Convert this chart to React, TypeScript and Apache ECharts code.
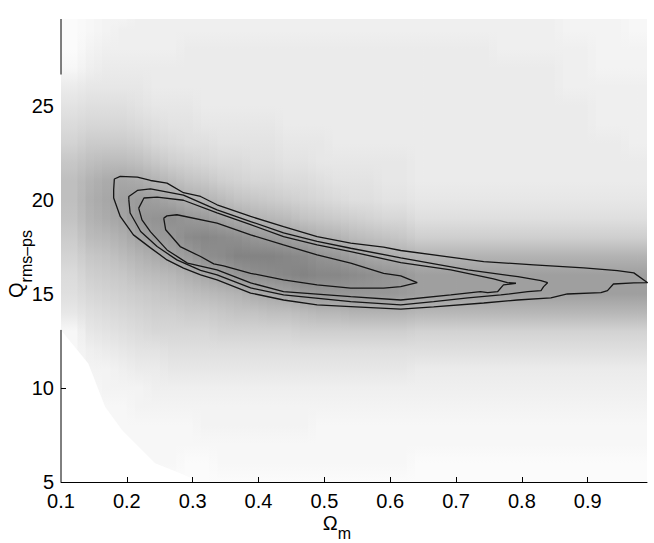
import React, { useEffect, useRef } from 'react';
import * as echarts from 'echarts';

const FONT = '"Liberation Sans", Arial, Helvetica, sans-serif';

const X_MIN = 0.1;
const X_MAX = 0.99;
const Y_MIN = 5;
const Y_MAX = 29.6;
const X_TICKS = [0.1, 0.2, 0.3, 0.4, 0.5, 0.6, 0.7, 0.8, 0.9];
const X_TICK_MARKS = [0.2, 0.3, 0.4, 0.5, 0.6, 0.7, 0.8, 0.9];
const Y_TICKS = [5, 10, 15, 20, 25];
const Y_TICK_MARKS = [10];
// parts of the left axis line that are not hidden by the density image
const Y_AXIS_SEGMENTS = [
  [5, 13.08],
  [26.65, 29.6],
];

// density image: one string per column (left -> right), one base-36 char per row (top -> bottom)
// darkness value v -> gray level 255 - 4 v
const DENSITY_ROWS_Y = [29.6, 29, 28, 27, 26, 25, 24, 23, 22, 21, 20, 19, 18, 17, 16, 15, 14, 13, 12, 11, 10, 9, 8, 7, 6, 5];
const DENSITY_COL_EDGES = [
  0.1, 0.125, 0.15, 0.175, 0.2, 0.225, 0.25, 0.275, 0.3, 0.325, 0.35, 0.375, 0.4, 0.425, 0.45, 0.475, 0.5, 0.525,
  0.55, 0.575, 0.6, 0.625, 0.65, 0.675, 0.7, 0.725, 0.75, 0.775, 0.8, 0.825, 0.85, 0.875, 0.9, 0.925, 0.95, 0.975, 0.99,
];
const DENSITY_COLUMNS = [
  '1112579beggfdb986222222222',
  '223468adgjkjheca8643222222',
  '334568adhlmlifdb9753322222',
  '344568adhmonkheca864322222',
  '4445679cglpqnjgdb975332222',
  '4445568aejorplheca75432222',
  '44455679chmsqnifca86432221',
  '44555678bfkqtpkgda86432211',
  '44555568aejpusmhda86433211',
  '445555679chnttoieb86433221',
  '445555679bflsvqjfb86433221',
  '445555678aejqvslfb86433221',
  '445555678adipvtmgb86433221',
  '4455555679chouungb86433221',
  '4455555679bfmtvphc86433221',
  '4455555668aekruqic86432221',
  '44555555679djquqic86432221',
  '44555555678chotqjc86432221',
  '44555555678bgmsqjc86432221',
  '44555555667aflrqjc86432221',
  '44555555667aekqpjc86432221',
  '445555555568cjooib85432211',
  '445555555568cjooib85432211',
  '445555555568cjooib85432211',
  '445555555568cjooib85432211',
  '445555555568cjooib85432211',
  '444555555568cjooib85432211',
  '444555555568cjooib85432211',
  '444555555568cjooib85432211',
  '444555555568cjooib85432211',
  '334445555568cjooib85432211',
  '334445555568cjooib85432211',
  '333344455568cjooib85432211',
  '333344455568cjooib85432211',
  '223344445568cjooib85432211',
  '223344445568cjooib85432211',
];
// blank (no-data) corner at the lower left
const BLANK_X = [0.1, 0.1, 0.1415, 0.167, 0.193, 0.243, 0.278, 0.312];
const BLANK_Y = [5, 13.08, 11.3, 9.0, 7.75, 6.0, 5.5, 5.0];

const CONTOUR_OUTER = [
  [0.18, 20.53], [0.181, 21.1], [0.19, 21.24], [0.216, 21.2], [0.236, 21.02], [0.261, 20.88], [0.286, 20.37],
  [0.312, 20.17], [0.337, 19.73], [0.388, 19.11], [0.438, 18.57], [0.489, 18.04], [0.54, 17.69], [0.59, 17.48],
  [0.616, 17.3], [0.742, 16.71], [0.818, 16.54], [0.894, 16.38], [0.945, 16.23], [0.97, 16.11], [0.991, 15.59],
  [0.97, 15.58], [0.939, 15.52], [0.93, 15.17], [0.92, 15.06], [0.869, 14.99], [0.844, 14.78], [0.793, 14.67],
  [0.742, 14.51], [0.666, 14.3], [0.616, 14.19], [0.54, 14.32], [0.489, 14.41], [0.438, 14.67], [0.388, 15.04],
  [0.337, 15.74], [0.312, 16.0], [0.286, 16.36], [0.261, 16.8], [0.236, 17.44], [0.21, 18.13], [0.19, 19.11],
  [0.18, 20.09], [0.18, 20.53],
];
const CONTOUR_SECOND = [
  [0.203, 19.99], [0.203, 20.17], [0.216, 20.49], [0.236, 20.57], [0.286, 20.24], [0.337, 19.46], [0.388, 18.84],
  [0.438, 18.24], [0.489, 17.78], [0.54, 17.42], [0.616, 16.91], [0.718, 16.27], [0.794, 15.91], [0.829, 15.7],
  [0.839, 15.59], [0.833, 15.38], [0.829, 15.17], [0.809, 15.11], [0.768, 14.94], [0.718, 14.78], [0.666, 14.58],
  [0.616, 14.41], [0.54, 14.58], [0.438, 14.94], [0.388, 15.31], [0.337, 16.0], [0.312, 16.24], [0.276, 16.8],
  [0.246, 17.51], [0.221, 18.31], [0.205, 19.29], [0.203, 19.99],
];
const CONTOUR_THIRD = [
  [0.218, 19.55], [0.226, 20.09], [0.246, 20.14], [0.286, 19.97], [0.337, 19.3], [0.388, 18.67], [0.438, 18.04],
  [0.489, 17.6], [0.54, 17.24], [0.616, 16.66], [0.692, 16.27], [0.757, 15.79], [0.778, 15.59], [0.791, 15.56],
  [0.772, 15.47], [0.763, 15.11], [0.748, 15.06], [0.737, 15.11], [0.692, 14.94], [0.616, 14.67], [0.54, 14.85],
  [0.438, 15.11], [0.388, 15.58], [0.337, 16.27], [0.292, 16.63], [0.261, 17.33], [0.236, 18.29], [0.223, 18.93],
  [0.218, 19.55],
];
const CONTOUR_INNER = [
  [0.256, 19.02], [0.261, 19.14], [0.276, 19.2], [0.337, 18.76], [0.388, 18.13], [0.438, 17.6], [0.489, 17.07],
  [0.54, 16.63], [0.59, 16.09], [0.616, 15.95], [0.641, 15.59], [0.616, 15.38], [0.59, 15.3], [0.54, 15.3],
  [0.489, 15.47], [0.438, 15.74], [0.388, 16.09], [0.347, 16.48], [0.332, 16.59], [0.312, 16.98], [0.281, 17.51],
  [0.259, 18.4], [0.256, 19.02],
];
const CONTOURS = [CONTOUR_OUTER, CONTOUR_SECOND, CONTOUR_THIRD, CONTOUR_INNER];

const shade = (v: number) => {
  const g = Math.round(255 - 4 * v);
  return `rgb(${g},${g},${g})`;
};

const columnGradient = (i: number) => {
  const col = DENSITY_COLUMNS[i];
  return {
    type: 'linear',
    x: 0,
    y: 0,
    x2: 0,
    y2: 1,
    colorStops: DENSITY_ROWS_Y.map((y, k) => ({
      offset: (Y_MAX - y) / (Y_MAX - Y_MIN),
      color: shade(parseInt(col[k], 36)),
    })),
  };
};

export default function App() {
  const ref = useRef<HTMLDivElement>(null);

  useEffect(() => {
    if (!ref.current) return;
    const chart = echarts.init(ref.current, null, { renderer: 'svg' });
    const nCols = DENSITY_COLUMNS.length;

    // base layer: each column drawn over its own cell
    const baseData = DENSITY_COLUMNS.map((_, i) => [DENSITY_COL_EDGES[i], DENSITY_COL_EDGES[i + 1], i]);
    // blend layer: each column drawn again, half a cell to the right, at half opacity
    const blendData = DENSITY_COLUMNS.slice(0, nCols - 1).map((_, i) => [
      (DENSITY_COL_EDGES[i] + DENSITY_COL_EDGES[i + 1]) / 2,
      (DENSITY_COL_EDGES[i + 1] + DENSITY_COL_EDGES[i + 2]) / 2,
      i,
    ]);

    const densityRender = (opacity: number, overlap: boolean) => (params: any, api: any) => {
      const x0 = api.value(0);
      const x1 = api.value(1);
      const i = api.value(2);
      const tl = api.coord([x0, Y_MAX]);
      const br = api.coord([x1, Y_MIN]);
      const extra = overlap && i < nCols - 1 ? 0.8 : 0;
      return {
        type: 'rect',
        shape: { x: tl[0], y: tl[1], width: br[0] - tl[0] + extra, height: br[1] - tl[1] },
        style: { fill: columnGradient(i), stroke: null, opacity },
      };
    };

    const contourSeries = CONTOURS.map((pts, k) => ({
      type: 'line',
      name: 'contour' + k,
      data: pts,
      showSymbol: false,
      symbol: 'none',
      smooth: false,
      silent: true,
      z: 5,
      lineStyle: { color: '#151515', width: 1.3 },
    }));

    const axisSegSeries = Y_AXIS_SEGMENTS.map((seg, k) => ({
      type: 'line',
      name: 'yaxis' + k,
      data: [
        [X_MIN, seg[0]],
        [X_MIN, seg[1]],
      ],
      symbol: 'none',
      showSymbol: false,
      clip: false,
      silent: true,
      z: 10,
      lineStyle: { color: '#000', width: 1 },
    }));

    chart.setOption({
      animation: false,
      grid: { left: 61, right: 7, top: 19, bottom: 61 },
      xAxis: {
        type: 'value',
        min: X_MIN,
        max: X_MAX,
        interval: 0.1,
        z: 10,
        axisLine: { show: true, lineStyle: { color: '#000', width: 1 } },
        axisTick: { show: true, inside: true, length: 5, customValues: X_TICK_MARKS, lineStyle: { color: '#000' } },
        axisLabel: {
          customValues: X_TICKS,
          formatter: (v: number) => v.toFixed(1),
          fontSize: 20,
          lineHeight: 18,
          color: '#000',
          fontFamily: FONT,
          margin: 10,
        },
        splitLine: { show: false },
      },
      yAxis: {
        type: 'value',
        min: Y_MIN,
        max: Y_MAX,
        interval: 5,
        z: 10,
        axisLine: { show: false },
        axisTick: { show: true, inside: true, length: 5, customValues: Y_TICK_MARKS, lineStyle: { color: '#000' } },
        axisLabel: {
          customValues: Y_TICKS,
          formatter: (v: number) => String(Math.round(v)),
          fontSize: 20,
          lineHeight: 16,
          color: '#000',
          fontFamily: FONT,
          margin: 7,
        },
        splitLine: { show: false },
      },
      series: [
        {
          type: 'custom',
          name: 'density',
          data: baseData,
          encode: { x: [0, 1] },
          silent: true,
          z: 1,
          renderItem: densityRender(1, true),
        },
        {
          type: 'custom',
          name: 'densityBlend',
          data: blendData,
          encode: { x: [0, 1] },
          silent: true,
          z: 2,
          renderItem: densityRender(0.5, false),
        },
        {
          type: 'custom',
          name: 'blank',
          data: [[BLANK_X[0], BLANK_Y[0]]],
          silent: true,
          z: 3,
          renderItem: (params: any, api: any) => ({
            type: 'polygon',
            shape: { points: BLANK_X.map((x, k) => api.coord([x, BLANK_Y[k]])) },
            style: { fill: '#fff', stroke: null },
          }),
        },
        ...contourSeries,
        ...axisSegSeries,
      ],
      graphic: [
        {
          type: 'text',
          x: 337,
          y: 524,
          z: 20,
          style: {
            text: '{a|Ω}{b|m}',
            align: 'center',
            verticalAlign: 'middle',
            fill: '#000',
            rich: {
              a: { fontSize: 20, lineHeight: 22, verticalAlign: 'top', fontFamily: FONT, fill: '#000' },
              b: { fontSize: 16, lineHeight: 16, padding: [12, 0, 0, 0], verticalAlign: 'top', fontFamily: FONT, fill: '#000' },
            },
          },
        },
        {
          type: 'text',
          x: 17,
          y: 264,
          rotation: Math.PI / 2,
          z: 20,
          style: {
            text: '{a|Q}{b|rms–ps}',
            align: 'center',
            verticalAlign: 'middle',
            fill: '#000',
            rich: {
              a: { fontSize: 20, lineHeight: 22, verticalAlign: 'top', fontFamily: FONT, fill: '#000' },
              b: { fontSize: 16, lineHeight: 16, padding: [12, 0, 0, 0], verticalAlign: 'top', fontFamily: FONT, fill: '#000' },
            },
          },
        },
      ],
    });

    return () => chart.dispose();
  }, []);

  return <div ref={ref} style={{ position: 'absolute', left: 0, top: 0, width: 654, height: 543 }} />;
}
